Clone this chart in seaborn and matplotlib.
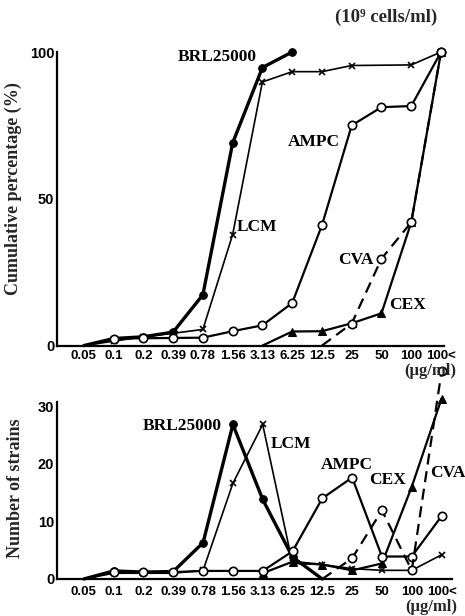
import numpy as np
import pandas as pd
import matplotlib
matplotlib.use('Agg')
import matplotlib.pyplot as plt
import seaborn as sns
from matplotlib import font_manager

categories = ['0.05', '0.1', '0.2', '0.39', '0.78', '1.56', '3.13', '6.25',
              '12.5', '25', '50', '100', '100<']
nan = np.nan
# cumulative percentage (%)
cum_brl = [0, 2.4, 3.0, 4.6, 17.3, 69, 94.7, 100, nan, nan, nan, nan, nan]
cum_lcm = [0, 1.5, 3.0, 4.2, 5.5, 37.8, 89.8, 93.3, 93.3, 95.4, nan, 95.6, 100]
cum_ampc = [0, 2.4, 2.5, 2.6, 2.7, 4.9, 6.9, 14.5, 41, 75, 81.2, 81.6, 100]
cum_cva = [nan] * 8 + [0, 7.5, 29.6, 42, 100]
cum_cex = [nan] * 6 + [0, 4.8, 4.9, 7.6, 11, 42, 100]
# number of strains
n_brl = [0, 1.4, 1.2, 1.3, 6.3, 26.8, 13.8, 3.8, 0, nan, nan, nan, nan]
n_lcm = [0, 1.0, 1.0, 1.0, 1.5, 16.6, 26.8, 2.7, 2.5, 1.8, 1.5, 1.5, 4.2]
n_ampc = [0, 1.3, 1.2, 1.2, 1.4, 1.4, 1.4, 4.8, 14, 17.6, 3.9, 3.9, 10.9]
n_cva = [nan] * 8 + [0, 3.6, 11.9, 1.5, 36]
n_cex = [nan] * 6 + [1.0, 3.0, 2.5, 1.5, 2.7, 16, 31.3]

series_names = ['BRL25000', 'LCM', 'AMPC', 'CVA', 'CEX']
top_vals = [cum_brl, cum_lcm, cum_ampc, cum_cva, cum_cex]
bot_vals = [n_brl, n_lcm, n_ampc, n_cva, n_cex]

sns.set_theme(style='white')
avail = {f.name for f in font_manager.fontManager.ttflist}
narrow = 'Liberation Sans Narrow' if 'Liberation Sans Narrow' in avail else (
    'DejaVu Sans Condensed' if 'DejaVu Sans Condensed' in avail else 'Liberation Sans')
serif = ['Liberation Serif', 'DejaVu Serif']
plt.rcParams['font.family'] = serif

styles = {
    'BRL25000': dict(marker='o', markerfacecolor='black', markersize=5.5, lw=2.4, ls='-', zorder=4),
    'LCM': dict(marker='x', markersize=4.5, markeredgewidth=1.2, lw=1.2, ls='-', zorder=3),
    'AMPC': dict(marker='o', markerfacecolor='white', markersize=6, markeredgewidth=1.2, lw=1.6, ls='-', zorder=5),
    'CVA': dict(marker='o', markerfacecolor='white', markersize=6, markeredgewidth=1.2, lw=1.6, ls=(0, (5, 3)), zorder=5),
    'CEX': dict(marker='^', markerfacecolor='black', markersize=6, lw=1.6, ls='-', zorder=4),
}

W, H = 465, 616
fig = plt.figure(figsize=(W / 100, H / 100), dpi=100)
fig.patch.set_facecolor('white')

def px_axes(x0, y_top, x1, y_bot):
    return fig.add_axes([x0 / W, 1 - y_bot / H, (x1 - x0) / W, (y_bot - y_top) / H])

ax1 = px_axes(57, 52, 444, 345.6)
ax2 = px_axes(57, 402, 452, 579)

xidx = np.arange(len(categories))

def draw(ax, vals_list):
    for name, vals in zip(series_names, vals_list):
        df = pd.DataFrame({'x': xidx, 'y': vals}).dropna().reset_index(drop=True)
        # the starting point on the baseline (and a trailing zero) carries no marker
        idx = list(range(len(df)))
        if df['y'].iloc[0] == 0:
            idx = idx[1:]
        if len(df) > 1 and df['y'].iloc[-1] == 0:
            idx = idx[:-1]
        st = dict(styles[name])
        sns.lineplot(data=df, x='x', y='y', ax=ax, color='black',
                     markeredgecolor='black', clip_on=False, sort=False,
                     estimator=None, legend=False, markevery=idx, **st)

draw(ax1, top_vals)
draw(ax2, bot_vals)

for ax in (ax1, ax2):
    ax.set_facecolor('white')
    for s in ('top', 'right'):
        ax.spines[s].set_visible(False)
    for s in ('left', 'bottom'):
        ax.spines[s].set_color('black')
        ax.spines[s].set_linewidth(1.6)
    ax.set_xticks(xidx)
    ax.set_xticklabels(categories, family=[narrow, 'DejaVu Sans'],
                       fontweight='bold', fontsize=9.5)
    ax.tick_params(axis='both', direction='in', length=4, width=1.3,
                   color='black', labelcolor='black')
    ax.set_xlabel('')
    ax.set_ylabel('')

ax1.set_xlim(-0.9, 12.1)
ax1.set_ylim(0, 100)
ax1.set_yticks([0, 50, 100])
ax1.set_yticklabels(['0', '50', '100'], family=[narrow, 'DejaVu Sans'],
                    fontweight='bold', fontsize=10.5)
ax1.tick_params(axis='x', pad=3)
ax1.tick_params(axis='y', pad=2)

ax2.set_xlim(-0.9, 12.35)
ax2.set_ylim(0, 30.7)
ax2.set_yticks([0, 10, 20, 30])
ax2.set_yticklabels(['0', '10', '20', '30'], family=[narrow, 'DejaVu Sans'],
                    fontweight='bold', fontsize=10.5)
ax2.tick_params(axis='x', pad=5)
ax2.tick_params(axis='y', pad=2)

lab_kw = dict(ha='center', va='center', fontsize=12.5, fontweight='bold',
              family=serif, color='black')
top_labels = {'BRL25000': (4.49, 98.3), 'AMPC': (7.72, 69.3), 'LCM': (5.83, 40.4),
              'CVA': (9.13, 29.2), 'CEX': (10.89, 13.8)}
bot_labels = {'BRL25000': (3.31, 26.5), 'LCM': (6.95, 23.4), 'AMPC': (8.83, 19.8),
              'CEX': (10.18, 17.2), 'CVA': (12.2, 18.4)}
for name, (x, y) in top_labels.items():
    ax1.text(x, y, name, clip_on=False, zorder=6, **lab_kw)
for name, (x, y) in bot_labels.items():
    ax2.text(x, y, name, clip_on=False, zorder=6, **lab_kw)

fig.text(386 / W, 1 - 17 / H, '(10⁹ cells/ml)', ha='center', va='center',
         fontsize=13.5, fontweight='bold', family=serif)
fig.text(430 / W, 1 - 371 / H, '(μg/ml)', ha='center', va='center',
         fontsize=12, fontweight='bold', family=serif)
fig.text(431 / W, 1 - 607 / H, '(μg/ml)', ha='center', va='center',
         fontsize=12, fontweight='bold', family=serif)
fig.text(13 / W, 1 - 189 / H, 'Cumulative percentage (%)', rotation=90,
         ha='center', va='center', fontsize=13, fontweight='bold', family=serif)
fig.text(15 / W, 1 - 488 / H, 'Number of strains', rotation=90,
         ha='center', va='center', fontsize=13, fontweight='bold', family=serif)

fig.savefig('out.png', dpi=100, facecolor='white')
